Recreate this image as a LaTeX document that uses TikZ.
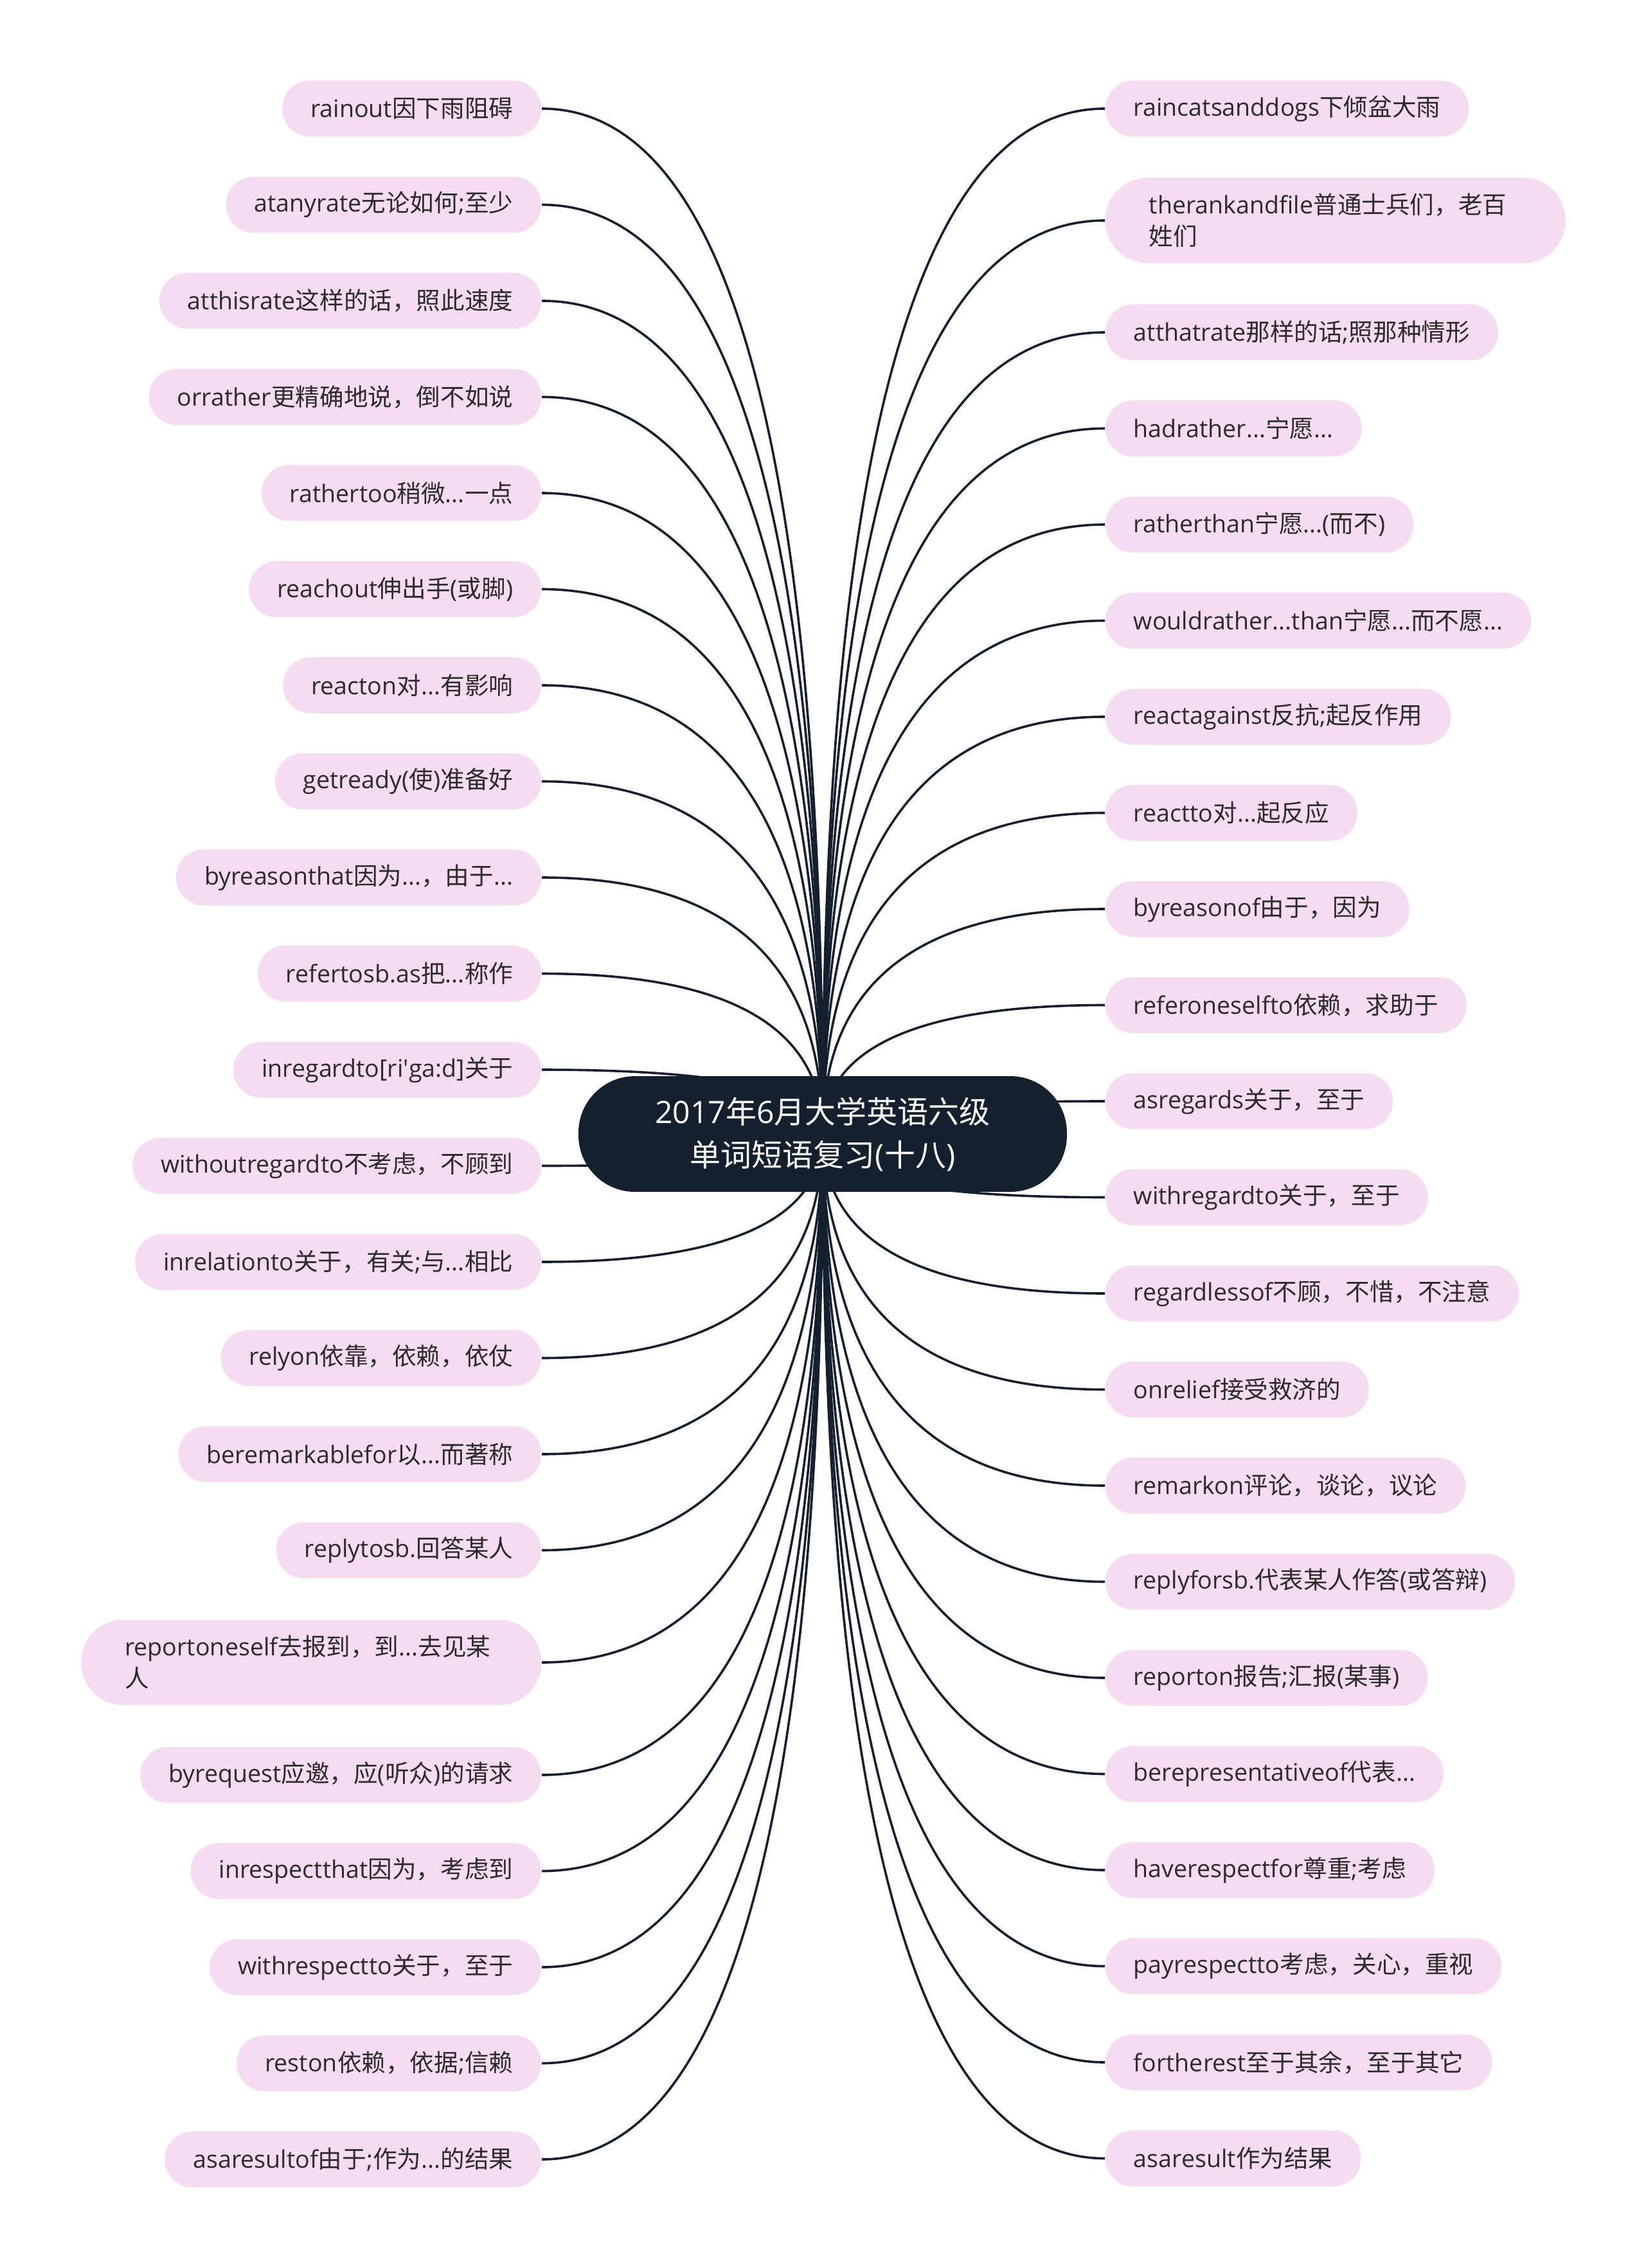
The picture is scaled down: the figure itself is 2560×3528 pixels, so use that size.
\documentclass[tikz,border=0pt]{standalone}
\usepackage{fontspec}
\setmainfont{Open Sans}
\newfontfamily\zhfont{Noto Sans CJK SC}
\usetikzlibrary{calc}

% Chinese characters switch to the CJK font on their own
\XeTeXinterchartokenstate=1
\newXeTeXintercharclass\zhclass
\makeatletter
\count@="3000
\loop\XeTeXcharclass\count@=\zhclass\advance\count@ 1 \ifnum\count@<"3040 \repeat
\count@="4E00
\loop\XeTeXcharclass\count@=\zhclass\advance\count@ 1 \ifnum\count@<"A000 \repeat
\count@="FF00
\loop\XeTeXcharclass\count@=\zhclass\advance\count@ 1 \ifnum\count@<"FF60 \repeat
\makeatother
\XeTeXinterchartoks 0 \zhclass = {\begingroup\zhfont}
\XeTeXinterchartoks 4095 \zhclass = {\begingroup\zhfont}
\XeTeXinterchartoks \zhclass 0 = {\endgroup}
\XeTeXinterchartoks \zhclass 4095 = {\endgroup}

\definecolor{hubnavy}{HTML}{15202F}
\definecolor{leafpink}{HTML}{F5DCF0}
\definecolor{leaftext}{HTML}{2B2B2B}

\tikzset{
  leaf/.style={fill=leafpink, rounded corners=10.8pt, minimum height=21.75pt,
    inner xsep=11pt, inner ysep=0pt, text=leaftext,
    font={\fontsize{9.4}{12.25}\selectfont}},
  leafwide/.style={leaf, minimum height=33.25pt, rounded corners=16.5pt,
    text width=145pt, align=left, inner xsep=17pt},
  root/.style={fill=hubnavy, rounded corners=22pt, minimum width=190pt,
    minimum height=45pt, text=white, align=center,
    font={\fontsize{12}{16.75}\selectfont}},
  branch/.style={draw=hubnavy, line width=0.9pt}
}

\begin{document}
\begin{tikzpicture}[x=0.25pt, y=-0.25pt]
\useasboundingbox (0,0) rectangle (2560,3528);
\coordinate (hub) at (1280,1764);

% left side
\foreach \i/\y/\t in {1/169/{rainout因下雨阻碍}, 2/318.5/{atanyrate无论如何;至少},
  3/468/{atthisrate这样的话，照此速度}, 4/617.5/{orrather更精确地说，倒不如说},
  5/767/{rathertoo稍微...一点}, 6/916.5/{reachout伸出手(或脚)},
  7/1066/{reacton对...有影响}, 8/1215.5/{getready(使)准备好},
  9/1365/{byreasonthat因为...，由于...}, 10/1514.5/{refertosb.as把...称作},
  11/1664/{inregardto[ri\textquotesingle ga:d]关于}, 12/1813.5/{withoutregardto不考虑，不顾到},
  13/1963/{inrelationto关于，有关;与...相比}, 14/2112.5/{relyon依靠，依赖，依仗},
  15/2262/{beremarkablefor以...而著称}, 16/2411.5/{replytosb.回答某人},
  18/2761/{byrequest应邀，应(听众)的请求}, 19/2910.5/{inrespectthat因为，考虑到},
  20/3060/{withrespectto关于，至于}, 21/3209.5/{reston依赖，依据;信赖},
  22/3359/{asaresultof由于;作为...的结果}}
  \node[leaf, anchor=east] (l\i) at (843,\y) {\t};
\node[leafwide, anchor=east] (l17) at (843,2586) {reportoneself去报到，到...去见某\\人};

% right side
\foreach \i/\y/\t in {1/169/{raincatsanddogs下倾盆大雨}, 3/517/{atthatrate那样的话;照那种情形},
  4/666.5/{hadrather...宁愿...}, 5/816/{ratherthan宁愿...(而不)},
  6/965.5/{wouldrather...than宁愿...而不愿...}, 7/1115/{reactagainst反抗;起反作用},
  8/1264.5/{reactto对...起反应}, 9/1414/{byreasonof由于，因为},
  10/1563.5/{referoneselfto依赖，求助于}, 11/1713/{asregards关于，至于},
  12/1862.5/{withregardto关于，至于}, 13/2012/{regardlessof不顾，不惜，不注意},
  14/2161.5/{onrelief接受救济的}, 15/2311/{remarkon评论，谈论，议论},
  16/2460.5/{replyforsb.代表某人作答(或答辩)}, 17/2610/{reporton报告;汇报(某事)},
  18/2759.5/{berepresentativeof代表...}, 19/2909/{haverespectfor尊重;考虑},
  20/3058.5/{payrespectto考虑，关心，重视}, 21/3208/{fortherest至于其余，至于其它},
  22/3357.5/{asaresult作为结果}}
  \node[leaf, anchor=west] (r\i) at (1719,\y) {\t};
\node[leafwide, anchor=west] (r2) at (1719,343) {therankandfile普通士兵们，老百\\姓们};

% curves from the hub
\foreach \i in {1,...,22} {
  \draw[branch] (hub) .. controls ($(hub)!2/3!(hub |- l\i.east)$) and ($(l\i.east)!2/3!(hub |- l\i.east)$) .. (l\i.east);
  \draw[branch] (hub) .. controls ($(hub)!2/3!(hub |- r\i.west)$) and ($(r\i.west)!2/3!(hub |- r\i.west)$) .. (r\i.west);
}

\node[root] (root) at (hub) {2017年6月大学英语六级\\单词短语复习(十八)};
\end{tikzpicture}
\end{document}
